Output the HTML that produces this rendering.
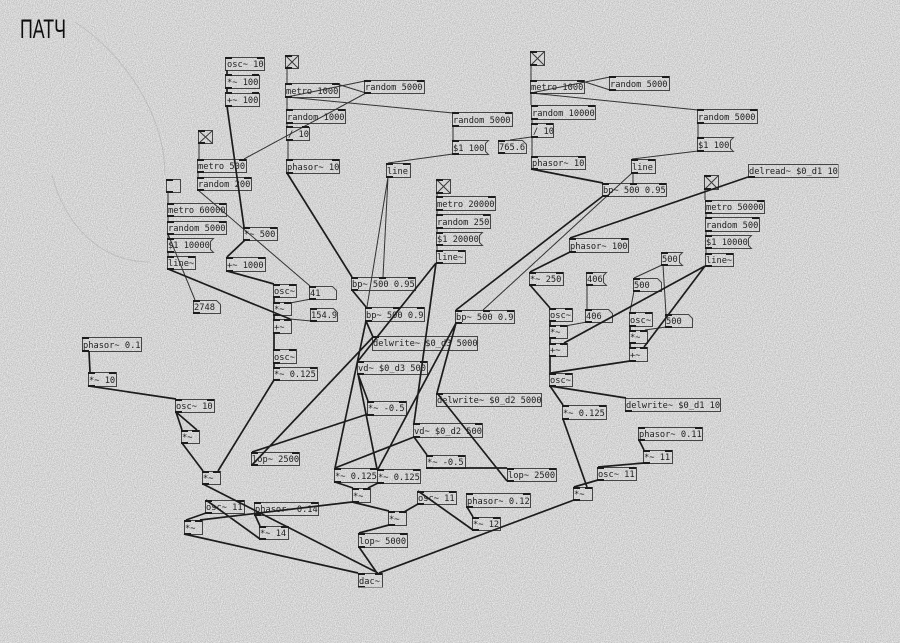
<!DOCTYPE html>
<html><head><meta charset="utf-8"><style>
html,body{margin:0;padding:0;background:#d4d4d4;width:900px;height:643px;overflow:hidden}
svg{display:block}
text{font-family:"DejaVu Sans Mono","Liberation Mono",monospace;font-size:8.7px;fill:#222}
</style></head><body>
<svg width="900" height="643" viewBox="0 0 900 643" xmlns="http://www.w3.org/2000/svg">
<defs>
<filter id="n" x="0" y="0" width="100%" height="100%" color-interpolation-filters="sRGB">
<feTurbulence type="fractalNoise" baseFrequency="1.07 1.13" numOctaves="2" seed="4"/>
<feColorMatrix type="matrix" values="0 0 0 .38 .64  0 0 0 .38 .64  0 0 0 .38 .64  0 0 0 0 1"/>
</filter>
<filter id="b" x="0" y="0" width="100%" height="100%"><feGaussianBlur stdDeviation="0.35"/></filter>
</defs>
<rect width="900" height="643" filter="url(#n)"/>
<path d="M75 22C125 55 165 115 165 175M52 175C65 225 100 262 150 262" fill="none" stroke="#999" stroke-width="1" opacity=".35"/>
<g filter="url(#b)">
<text x="20" y="38" style="font-family:'Liberation Sans',sans-serif;font-size:27px;fill:#111" textLength="46" lengthAdjust="spacingAndGlyphs">ПАТЧ</text>

<!-- boxes -->
<path fill="none" stroke="#444" stroke-width="1" d="
M225.500 57.500H264.500V70.500H225.500ZM225.500 75.500H259.500V88.500H225.500ZM225.500 93.500H259.500V106.500H225.500Z
M285.500 55.500H298.500V68.500H285.500ZM285.500 83.500H339.500V97.500H285.500ZM286.500 109.500H345.500V123.500H286.500ZM286.500 127.500H309.500V140.500H286.500ZM286.500 159.500H339.500V173.500H286.500Z
M198.500 130.500H212.500V143.500H198.500ZM197.500 159.500H246.500V172.500H197.500ZM197.500 177.500H251.500V190.500H197.500Z
M166.500 179.500H180.500V192.500H166.500ZM167.500 203.500H226.500V216.500H167.500ZM167.500 221.500H226.500V234.500H167.500ZM167.500 256.500H195.500V269.500H167.500Z
M243.500 227.500H277.500V240.500H243.500ZM226.500 257.500H265.500V271.500H226.500Z
M273.500 284.500H296.500V297.500H273.500ZM273.500 302.500H291.500V315.500H273.500ZM273.500 319.500H291.500V333.500H273.500ZM273.500 349.500H296.500V363.500H273.500ZM273.500 367.500H317.500V380.500H273.500Z
M175.500 399.500H214.500V412.500H175.500ZM181.500 430.500H199.500V443.500H181.500ZM82.500 337.500H141.500V351.500H82.500ZM88.500 372.500H116.500V386.500H88.500Z
M202.500 471.500H220.500V484.500H202.500ZM205.500 500.500H244.500V513.500H205.500ZM254.500 502.500H318.500V515.500H254.500ZM184.500 520.500H202.500V534.500H184.500ZM259.500 526.500H288.500V539.500H259.500ZM251.500 452.500H299.500V465.500H251.500Z
M334.500 468.500H377.500V482.500H334.500ZM377.500 469.500H420.500V483.500H377.500ZM352.500 488.500H370.500V502.500H352.500ZM388.500 511.500H406.500V525.500H388.500ZM358.500 533.500H407.500V547.500H358.500ZM358.500 573.500H382.500V587.500H358.500Z
M351.500 277.500H415.500V290.500H351.500ZM365.500 307.500H424.500V321.500H365.500ZM372.500 336.500H477.500V350.500H372.500ZM357.500 361.500H427.500V374.500H357.500ZM367.500 401.500H406.500V415.500H367.500Z
M455.500 310.500H514.500V323.500H455.500ZM436.500 393.500H541.500V406.500H436.500ZM413.500 423.500H482.500V437.500H413.500ZM426.500 455.500H465.500V468.500H426.500ZM507.500 468.500H556.500V481.500H507.500Z
M364.500 80.500H424.500V93.500H364.500ZM452.500 112.500H512.500V126.500H452.500ZM386.500 163.500H410.500V177.500H386.500Z
M436.500 179.500H450.500V193.500H436.500ZM436.500 196.500H495.500V210.500H436.500ZM436.500 214.500H490.500V228.500H436.500ZM436.500 250.500H465.500V263.500H436.500Z
M530.500 51.500H544.500V65.500H530.500ZM530.500 80.500H584.500V93.500H530.500ZM609.500 76.500H669.500V90.500H609.500ZM531.500 105.500H595.500V119.500H531.500ZM531.500 123.500H553.500V137.500H531.500ZM531.500 156.500H585.500V169.500H531.500Z
M697.500 109.500H757.500V123.500H697.500ZM631.500 159.500H655.500V173.500H631.500ZM602.500 183.500H666.500V196.500H602.500ZM748.500 164.500H838.500V177.500H748.500Z
M704.500 175.500H718.500V189.500H704.500ZM705.500 200.500H764.500V213.500H705.500ZM705.500 217.500H759.500V231.500H705.500ZM705.500 253.500H733.500V266.500H705.500Z
M569.500 238.500H628.500V252.500H569.500ZM529.500 272.500H563.500V285.500H529.500ZM549.500 308.500H572.500V321.500H549.500ZM549.500 325.500H567.500V338.500H549.500ZM549.500 343.500H567.500V356.500H549.500ZM549.500 373.500H572.500V386.500H549.500ZM562.500 405.500H606.500V419.500H562.500ZM625.500 398.500H720.500V411.500H625.500Z
M629.500 312.500H652.500V326.500H629.500ZM629.500 330.500H647.500V343.500H629.500ZM629.500 347.500H647.500V361.500H629.500Z
M638.500 427.500H702.500V440.500H638.500ZM643.500 450.500H672.500V463.500H643.500ZM597.500 467.500H636.500V480.500H597.500ZM573.500 487.500H592.500V500.500H573.500ZM417.500 491.500H456.500V504.500H417.500ZM466.500 493.500H530.500V507.500H466.500ZM472.500 517.500H500.500V530.500H472.500Z
M498.500 140.500H522.500L526.500 144.500V153.500H498.500Z
M309.500 286.500H332.500L336.500 290.500V299.500H309.500ZM310.500 308.500H333.500L337.500 312.500V321.500H310.500ZM193.500 300.500H216.500L220.500 304.500V313.500H193.500Z
M585.500 309.500H608.500L612.500 313.500V322.500H585.500ZM633.500 278.500H657.500L661.500 282.500V291.500H633.500ZM665.500 314.500H688.500L692.500 318.500V327.500H665.500Z
M167.500 238.500H213.500L210.500 241.500V249.500L213.500 252.500H167.500ZM452.500 140.500H488.500L485.500 143.500V151.500L488.500 154.500H452.500ZM436.500 232.500H482.500L479.500 235.500V242.500L482.500 245.500H436.500Z
M697.500 137.500H733.500L730.500 140.500V148.500L733.500 151.500H697.500ZM705.500 235.500H751.500L748.500 238.500V245.500L751.500 248.500H705.500ZM586.500 272.500H606.500L603.500 275.500V282.500L606.500 285.500H586.500ZM661.500 252.500H682.500L679.500 255.500V262.500L682.500 265.500H661.500Z
"/>
<!-- toggle crosses -->
<path fill="none" stroke="#3a3a3a" stroke-width="1" d="M285.500 55.500L298.500 68.500M298.500 55.500L285.500 68.500M198.500 130.500L212.500 143.500M212.500 130.500L198.500 143.500M436.500 179.500L450.500 193.500M450.500 179.500L436.500 193.500M530.500 51.500L544.500 65.500M544.500 51.500L530.500 65.500M704.500 175.500L718.500 189.500M718.500 175.500L704.500 189.500"/>

<!-- thin wires -->
<path fill="none" stroke="#333" stroke-width="1" d="
M287 68V83M287 97V109M287 123V127M288 140V159M287 97L365 81M366 93L337 84M287 97L453 113M366 93L244 159M453 126V140M453 154L388 163M388 177L383 277M388 177L367 307
M199 143V159M198 172V177M198 190L310 286M311 299L290 303M311 321L290 319M168 192V203M168 216V221M168 234V238M168 234L195 300M168 252V256
M437 193V196M437 210V214M437 228V232M437 245V250
M531 65V80M531 93L610 77M610 90L582 81M531 93L698 110M531 93V105M532 119V123M532 137V156M531 137L510 140M698 123V137M698 151L632 159M633 173V183M632 173L483 310
M705 189V200M706 213V217M706 231V235M706 248V253
M587 285V309M587 322L565 326M662 265L634 278M663 265L666 314M634 291L630 312M666 327L645 330
"/>
<!-- thick wires -->
<path fill="none" stroke="#1c1c1c" stroke-width="1.7" d="
M227 70V75M227 88V93M227 106L244 227M245 240L227 257M227 271L274 284M274 297V302M274 315V319M274 333V349M274 363V367M274 380L218 471
M168 269L290 319M89 351L90 372M89 386L176 399M176 412L182 430M176 412L197 430M182 443L203 471M203 484L378 573
M206 513L186 520M206 500L260 539M255 515L260 526M352 502L200 520M184 534L358 573M352 502L389 511M335 482L353 488M378 483L368 488M389 525L359 533M359 547L377 573M404 512L418 504M418 491L473 530M467 507L473 517
M287 173L352 277M352 290L366 307M366 321L373 337M366 321L335 468M252 465L373 337M358 374L368 401M358 374L377 469M436 263L414 423M436 263L358 361
M603 196L456 310M456 323L437 393M456 323L378 469M414 437L427 455M414 437L335 468M507 481L437 393M427 468L507 468M368 414L252 452
M531 169L603 183M748 177L570 238M570 252L530 272M530 285L550 308M550 321V325M550 338V343M550 356V373M630 361L551 373M705 266L564 343M705 266L644 347M630 326V330M630 343V347
M550 386L563 405M550 386L626 398M563 419L587 487M574 500L379 573M639 440L644 450M644 463L598 467M598 480L574 487
"/>
<!-- ports -->
<path fill="none" stroke="#1a1a1a" stroke-width="2" d="
M225 58h7M257 58h7M225 75h7M252 75h7M225 88h7M225 93h7M252 93h7M225 106h7
M285 84h7M332 84h7M285 97h7M286 110h7M338 110h7M286 123h7M286 127h7M302 127h7M286 140h7M286 160h7M332 160h7M286 173h7
M197 160h7M239 160h7M197 172h7M197 178h7M244 178h7M197 190h7M167 204h7M219 204h7M167 216h7M167 222h7M219 222h7M167 234h7M167 239h7M167 252h7M167 257h7M188 257h7M167 269h7
M243 228h7M270 228h7M243 240h7M226 258h7M258 258h7M226 271h7M273 285h7M289 285h7M273 297h7M273 303h7M284 303h7M273 315h7M273 320h7M284 320h7M273 333h7M273 350h7M289 350h7M273 363h7M273 368h7M310 368h7M273 380h7
M309 287h7M309 299h7M310 309h7M310 321h7M193 301h7M193 313h7
M175 400h7M207 400h7M175 412h7M181 431h7M192 431h7M181 443h7M82 338h7M82 351h7M88 373h7M109 373h7M88 386h7
M202 472h7M213 472h7M202 484h7M205 501h7M237 501h7M205 513h7M254 503h7M311 503h7M254 515h7M184 521h7M195 521h7M184 534h7M259 527h7M281 527h7M259 539h7M251 453h7M292 453h7M251 465h7
M334 469h7M370 469h7M334 482h7M377 470h7M413 470h7M377 483h7M352 489h7M363 489h7M352 502h7M388 512h7M399 512h7M388 525h7M358 534h7M400 534h7M358 547h7M358 574h7M375 574h7M358 587h7
M351 278h7M379 278h7M408 278h7M351 290h7M365 308h7M393 308h7M417 308h7M365 321h7M372 337h7M357 362h7M420 362h7M357 374h7M367 402h7M399 402h7M367 415h7
M455 311h7M483 311h7M507 311h7M455 323h7M436 394h7M413 424h7M475 424h7M413 437h7M426 456h7M458 456h7M426 468h7M507 469h7M549 469h7M507 481h7
M364 81h7M417 81h7M364 93h7M452 113h7M505 113h7M452 126h7M452 141h7M452 154h7M386 164h7M403 164h7M386 177h7
M436 197h7M488 197h7M436 210h7M436 215h7M483 215h7M436 228h7M436 233h7M436 245h7M436 251h7M458 251h7M436 263h7
M530 81h7M577 81h7M530 93h7M609 77h7M662 77h7M609 90h7M531 106h7M588 106h7M531 119h7M531 124h7M546 124h7M531 137h7M531 157h7M578 157h7M531 169h7M498 141h7M498 153h7
M697 110h7M750 110h7M697 123h7M697 138h7M697 151h7M631 160h7M648 160h7M631 173h7M602 184h7M630 184h7M659 184h7M602 196h7M748 177h7
M705 201h7M757 201h7M705 213h7M705 218h7M752 218h7M705 231h7M705 236h7M705 248h7M705 254h7M726 254h7M705 266h7
M569 239h7M621 239h7M569 252h7M529 273h7M556 273h7M529 285h7M549 309h7M565 309h7M549 321h7M549 326h7M560 326h7M549 338h7M549 344h7M560 344h7M549 356h7M549 374h7M565 374h7M549 386h7M562 406h7M599 406h7M562 419h7M625 411h7
M586 273h7M586 285h7M585 310h7M585 322h7M661 253h7M661 265h7M633 279h7M633 291h7M665 315h7M665 327h7
M629 313h7M645 313h7M629 326h7M629 331h7M640 331h7M629 343h7M629 348h7M640 348h7M629 361h7
M638 428h7M695 428h7M638 440h7M643 451h7M665 451h7M643 463h7M597 468h7M629 468h7M597 480h7M573 488h7M585 488h7M573 500h7M417 492h7M449 492h7M417 504h7M466 494h7M523 494h7M466 507h7M472 518h7M493 518h7M472 530h7
M285 56h7M285 68h7M198 131h7M198 143h7M166 180h7M166 192h7M436 180h7M436 193h7M530 52h7M530 65h7M704 176h7M704 189h7
"/>

<!-- labels -->
<text x="227" y="67">osc~ 10</text><text x="227" y="85">*~ 100</text><text x="227" y="103">+~ 100</text>
<text x="286" y="94">metro 1000</text><text x="287" y="120">random 1000</text><text x="288" y="137">/ 10</text><text x="287" y="170">phasor~ 10</text>
<text x="198" y="169">metro 500</text><text x="198" y="187">random 200</text>
<text x="168" y="213">metro 60000</text><text x="168" y="231">random 5000</text><text x="168" y="248">$1 10000</text><text x="168" y="266">line~</text>
<text x="244" y="237">*~ 500</text><text x="227" y="268">+~ 1000</text>
<text x="274" y="294">osc~</text><text x="274" y="312">*~</text><text x="274" y="330">+~</text><text x="274" y="360">osc~</text><text x="274" y="377">*~ 0.125</text>
<text x="310" y="296">41</text><text x="311" y="318">154.9</text><text x="194" y="310">2748</text>
<text x="176" y="409">osc~ 10</text><text x="182" y="440">*~</text><text x="83" y="348">phasor~ 0.1</text><text x="89" y="383">*~ 10</text>
<text x="203" y="481">*~</text><text x="206" y="510">osc~ 11</text><text x="255" y="512">phasor~ 0.14</text><text x="185" y="531">*~</text><text x="260" y="536">*~ 14</text><text x="252" y="462">lop~ 2500</text>
<text x="335" y="479">*~ 0.125</text><text x="378" y="480">*~ 0.125</text><text x="353" y="499">*~</text><text x="389" y="522">*~</text><text x="359" y="544">lop~ 5000</text><text x="359" y="584">dac~</text>
<text x="352" y="287">bp~ 500 0.95</text><text x="366" y="318">bp~ 500 0.9</text><text x="373" y="346">delwrite~ $0_d3 5000</text><text x="358" y="371">vd~ $0_d3 500</text><text x="368" y="411">*~ -0.5</text>
<text x="456" y="320">bp~ 500 0.9</text><text x="437" y="403">delwrite~ $0_d2 5000</text><text x="414" y="434">vd~ $0_d2 500</text><text x="427" y="465">*~ -0.5</text><text x="508" y="478">lop~ 2500</text>
<text x="365" y="90">random 5000</text><text x="453" y="123">random 5000</text><text x="453" y="151">$1 100</text><text x="387" y="174">line</text>
<text x="437" y="207">metro 20000</text><text x="437" y="225">random 250</text><text x="437" y="242">$1 20000</text><text x="437" y="260">line~</text>
<text x="531" y="90">metro 1000</text><text x="610" y="87">random 5000</text><text x="532" y="116">random 10000</text><text x="533" y="134">/ 10</text><text x="532" y="166">phasor~ 10</text><text x="499" y="150">765.6</text>
<text x="698" y="120">random 5000</text><text x="698" y="148">$1 100</text><text x="632" y="170">line</text><text x="603" y="193">bp~ 500 0.95</text><text x="749" y="174">delread~ $0_d1 10</text>
<text x="706" y="210">metro 50000</text><text x="706" y="228">random 500</text><text x="706" y="245">$1 10000</text><text x="706" y="263">line~</text>
<text x="570" y="249">phasor~ 100</text><text x="530" y="282">*~ 250</text><text x="550" y="318">osc~</text><text x="550" y="335">*~</text><text x="550" y="353">+~</text><text x="550" y="383">osc~</text><text x="563" y="416">*~ 0.125</text><text x="626" y="408">delwrite~ $0_d1 10</text>
<text x="587" y="282">406</text><text x="586" y="319">406</text><text x="662" y="262">500</text><text x="634" y="288">500</text><text x="666" y="324">500</text>
<text x="630" y="323">osc~</text><text x="630" y="340">*~</text><text x="630" y="358">+~</text>
<text x="639" y="437">phasor~ 0.11</text><text x="644" y="460">*~ 11</text><text x="598" y="477">osc~ 11</text><text x="574" y="497">*~</text><text x="418" y="501">osc~ 11</text><text x="467" y="504">phasor~ 0.12</text><text x="473" y="527">*~ 12</text>
</g>
</svg>
</body></html>
